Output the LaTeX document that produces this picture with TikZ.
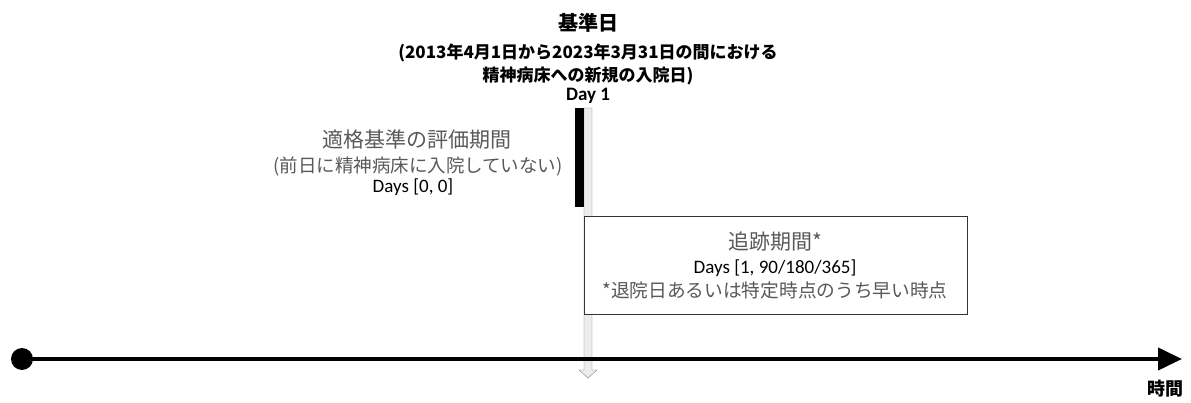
\documentclass[tikz,border=0pt]{standalone}
\usepackage{fontspec}
\usetikzlibrary{arrows.meta}
\setmainfont{Carlito}
\newfontfamily\jp{Noto Sans CJK JP}
\definecolor{txtgray}{HTML}{595959}
\definecolor{boxgray}{HTML}{333333}
\tikzset{
    jtitle/.style={font=\jp\bfseries\fontsize{#1}{#1}\selectfont, inner sep=0pt},
    jgray/.style={font=\jp\fontsize{#1}{#1}\selectfont, text=txtgray, inner sep=0pt},
    ldays/.style={font=\fontsize{#1}{#1}\selectfont, inner sep=0pt}
}

\begin{document}
\begin{tikzpicture}[x=1pt, y=-1pt]
        \useasboundingbox (0,0) rectangle (1191,403);
        % index date
        \node[jtitle=20] (index) at (588,23) {基準日};
        \node[jtitle=17] (period) at (588,53) {(2013年4月1日から2023年3月31日の間における};
        \node[jtitle=17] (admit) at (588,76) {精神病床への新規の入院日)};
        \node[font=\bfseries\fontsize{19}{19}\selectfont, inner sep=0pt] (day) at (588,96) {Day 1};
        % grey arrow down from day 1
        \draw[gray, fill=gray!15] (584,108) -- (592,108) -- (592,370) -- (597,370) -- (588,378) -- (579,370) -- (584,370) -- cycle;
        \fill (575,108) rectangle (584,207);
        % eligibility window
        \node[jgray=21] (elig) at (417,140) {適格基準の評価期間};
        \node[jgray=18.5] (elignote) at (418,166) {(前日に精神病床に入院していない)};
        \node[ldays=19] (eligdays) at (413,187) {Days [0, 0]};
        % follow-up window
        \node[draw=boxgray, thick, fill=white, minimum width=383, minimum height=98, inner sep=0pt] (follow) at (775.5,265) {};
        \node[jgray=21] (fulabel) at (775,242) {追跡期間*};
        \node[ldays=19] (fudays) at (775,268) {Days [1, 90/180/365]};
        \node[jgray=18.7] (funote) at (775,290) {*退院日あるいは特定時点のうち早い時点};
        % time axis
        \node[circle, fill, minimum size=22, inner sep=0pt] (start) at (22,359) {};
        \coordinate (end) at (1182,359);
        \draw[line width=4, -{Triangle[length=24, width=22]}] (start.center) -- (end);
        \node[jtitle=18] (time) at (1165,389) {時間};
    \end{tikzpicture}
\end{document}
